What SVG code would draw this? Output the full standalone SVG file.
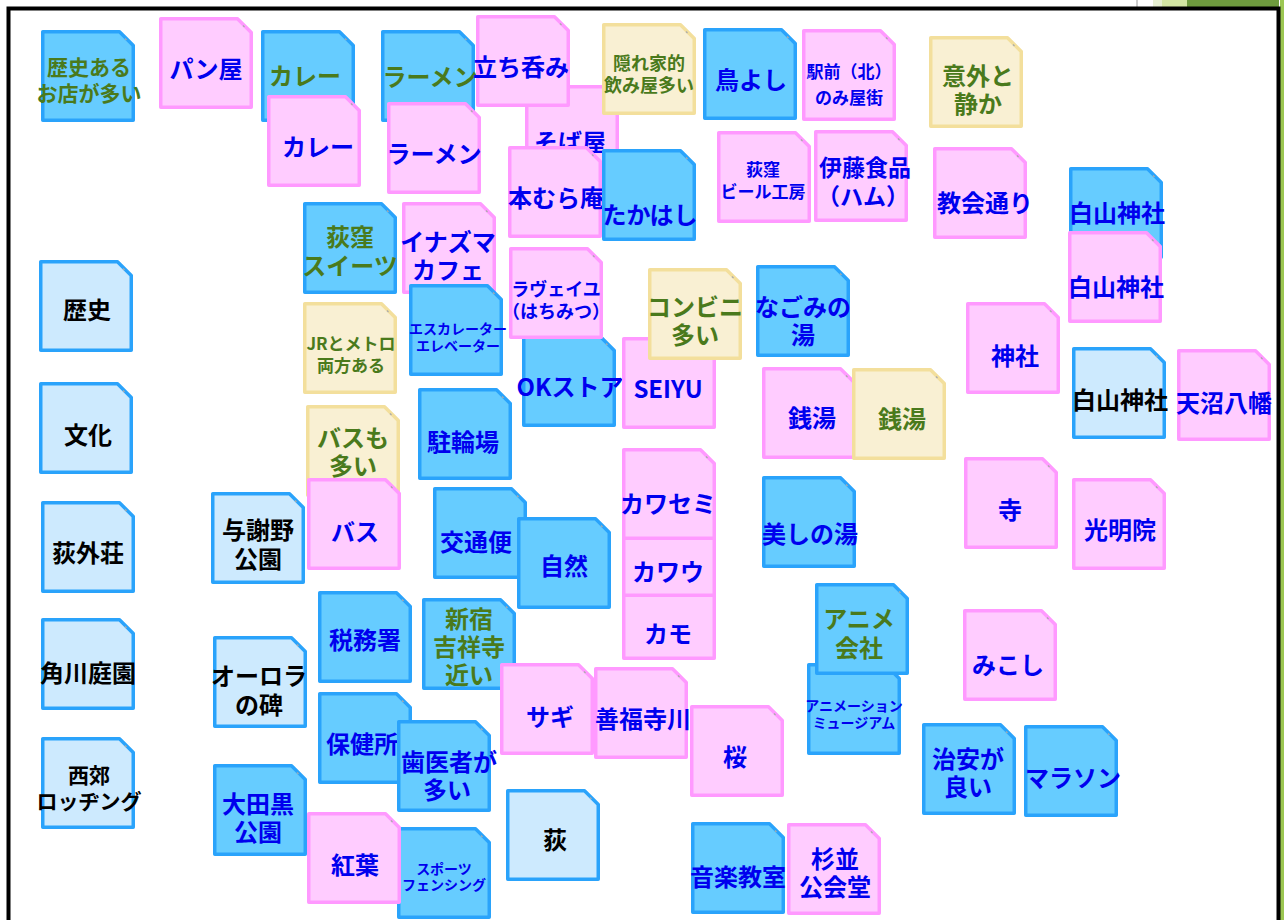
<svg xmlns="http://www.w3.org/2000/svg" xmlns:xlink="http://www.w3.org/1999/xlink" width="1284" height="920" viewBox="0 0 1284 920">
<style>
text{font-family:"Noto Sans CJK JP","Noto Sans",sans-serif;font-weight:bold;text-anchor:middle;dominant-baseline:central;font-size:24px}
.b{fill:#66ccff;stroke:#2aa3fb}
.l{fill:#cdeafe;stroke:#2aa3fb}
.p{fill:#ffccff;stroke:#ff99ff}
.y{fill:#f9f0d3;stroke:#f3df9c}
.tb{fill:#0000ee}
.tg{fill:#4a7a1c}
.tk{fill:#000}
.s14{font-size:14px}.s17{font-size:17px}.s18{font-size:18px}.s21{font-size:21px}.s22{font-size:23px}
</style>
<defs>
<g id="note">
<path d="M1.75,1.75 H78.5 L92.25,15.5 V90.25 H1.75 Z" stroke-width="3.5" stroke-linejoin="round"/>
<path d="M84,8.5 l1.5,1.5" fill="none" stroke="#aaaaaa" stroke-width="1.2"/>
</g>
</defs>
<rect x="0" y="0" width="1284" height="920" fill="#ffffff"/>
<g id="frame">
<line x1="1137" y1="0" x2="1137" y2="8" stroke="#9a9a9a" stroke-width="1"/>
<rect x="1153" y="0" width="34" height="8" fill="#d3e6a3"/>
<rect x="1153" y="0" width="9" height="8" fill="#e7f0d2"/>
<rect x="1187" y="0" width="92" height="8" fill="#6e9b3e"/>
<rect x="1280" y="0" width="4" height="920" fill="#9cc752"/>
<rect x="8.5" y="8.5" width="1270" height="930" fill="#ffffff" stroke="#000000" stroke-width="4"/>
</g>
<g id="connectors"></g>
<g id="notes">
<g id="n01"><use href="#note" class="b" x="41" y="30"/><text class="tg s21"><tspan x="89" y="66">歴史ある</tspan><tspan x="89" y="92">お店が多い</tspan></text></g>
<g id="n02"><use href="#note" class="p" x="159" y="17"/><text class="tb" x="206" y="67">パン屋</text></g>
<g id="n03"><use href="#note" class="b" x="261" y="30"/><text class="tg" x="305" y="74">カレー</text></g>
<g id="n04"><use href="#note" class="b" x="381" y="30"/><text class="tg" x="430" y="75">ラーメン</text></g>
<g id="n05"><use href="#note" class="p" x="267" y="95"/><text class="tb" x="318" y="145">カレー</text></g>
<g id="n06"><use href="#note" class="p" x="387" y="102"/><text class="tb" x="434" y="152">ラーメン</text></g>
<g id="n08"><use href="#note" class="p" x="525" y="85"/><text class="tb" x="570" y="140">そば屋</text></g>
<g id="n07"><use href="#note" class="p" x="476" y="15"/><text class="tb" x="521" y="65">立ち呑み</text></g>
<g id="n09"><use href="#note" class="y" x="602" y="23"/><text class="tg s18"><tspan x="649" y="62">隠れ家的</tspan><tspan x="649" y="84">飲み屋多い</tspan></text></g>
<g id="n10"><use href="#note" class="b" x="703" y="28"/><text class="tb" x="751" y="78">鳥よし</text></g>
<g id="n11"><use href="#note" class="p" x="802" y="29"/><text class="tb s17"><tspan x="849" y="70">駅前（北）</tspan><tspan x="849" y="96">のみ屋街</tspan></text></g>
<g id="n12"><use href="#note" class="y" x="929" y="36"/><text class="tg"><tspan x="978" y="74">意外と</tspan><tspan x="978" y="102">静か</tspan></text></g>
<g id="n13"><use href="#note" class="p" x="508" y="146"/><text class="tb" x="556" y="196">本むら庵</text></g>
<g id="n14"><use href="#note" class="b" x="602" y="149"/><text class="tb" x="650" y="213">たかはし</text></g>
<g id="n15"><use href="#note" class="p" x="717" y="131"/><text class="tb s17"><tspan x="763" y="168">荻窪</tspan><tspan x="763" y="190">ビール工房</tspan></text></g>
<g id="n16"><use href="#note" class="p" x="814" y="130"/><text class="tb s22"><tspan x="865" y="166">伊藤食品</tspan><tspan x="863" y="195">（ハム）</tspan></text></g>
<g id="n17"><use href="#note" class="p" x="933" y="147"/><text class="tb" x="985" y="201">教会通り</text></g>
<g id="n18"><use href="#note" class="b" x="1069" y="167"/><text class="tb" x="1117" y="211">白山神社</text></g>
<g id="n19"><use href="#note" class="p" x="1068" y="231"/><text class="tb" x="1116" y="285">白山神社</text></g>
<g id="n20"><use href="#note" class="b" x="303" y="202"/><text class="tg"><tspan x="350" y="235">荻窪</tspan><tspan x="350" y="264">スイーツ</tspan></text></g>
<g id="n21"><use href="#note" class="p" x="402" y="202"/><text class="tb"><tspan x="448" y="240">イナズマ</tspan><tspan x="448" y="268">カフェ</tspan></text></g>
<g id="n24"><use href="#note" class="b" x="522" y="335"/><text class="tb" x="570" y="385">OKストア</text></g>
<g id="n22"><use href="#note" class="p" x="509" y="247"/><text class="tb s18"><tspan x="556" y="288">ラヴェイユ</tspan><tspan x="556" y="310">（はちみつ）</tspan></text></g>
<g id="n23"><use href="#note" class="b" x="409" y="284"/><text class="tb s14"><tspan x="458" y="328">エスカレーター</tspan><tspan x="458" y="345">エレベーター</tspan></text></g>
<g id="n25"><use href="#note" class="p" x="622" y="337"/><text class="tb" x="668" y="387">SEIYU</text></g>
<g id="n26"><use href="#note" class="y" x="648" y="268"/><text class="tg"><tspan x="695" y="305">コンビニ</tspan><tspan x="695" y="333">多い</tspan></text></g>
<g id="n27"><use href="#note" class="b" x="756" y="265"/><text class="tb"><tspan x="803" y="305">なごみの</tspan><tspan x="803" y="333">湯</tspan></text></g>
<g id="n28"><use href="#note" class="l" x="39" y="260"/><text class="tk" x="87" y="308">歴史</text></g>
<g id="n29"><use href="#note" class="l" x="39" y="382"/><text class="tk" x="88" y="433">文化</text></g>
<g id="n30"><use href="#note" class="y" x="303" y="302"/><text class="tg s17"><tspan x="351" y="342">JRとメトロ</tspan><tspan x="351" y="364">両方ある</tspan></text></g>
<g id="n31"><use href="#note" class="b" x="418" y="388"/><text class="tb" x="463" y="440">駐輪場</text></g>
<g id="n32"><use href="#note" class="p" x="966" y="302"/><text class="tb" x="1015" y="354">神社</text></g>
<g id="n33"><use href="#note" class="l" x="1072" y="347"/><text class="tk" x="1120" y="398">白山神社</text></g>
<g id="n34"><use href="#note" class="p" x="1177" y="349"/><text class="tb" x="1224" y="401">天沼八幡</text></g>
<g id="n35"><use href="#note" class="p" x="762" y="367"/><text class="tb" x="812" y="416">銭湯</text></g>
<g id="n36"><use href="#note" class="y" x="852" y="368"/><text class="tg" x="902" y="417">銭湯</text></g>
<g id="n37"><use href="#note" class="y" x="306" y="405"/><text class="tg"><tspan x="353" y="436">バスも</tspan><tspan x="353" y="464">多い</tspan></text></g>
<g id="n38"><use href="#note" class="p" x="307" y="478"/><text class="tb" x="355" y="530">バス</text></g>
<g id="n39"><use href="#note" class="l" x="41" y="501"/><text class="tk" x="88" y="551">荻外荘</text></g>
<g id="n40"><use href="#note" class="l" x="211" y="492"/><text class="tk"><tspan x="258" y="528">与謝野</tspan><tspan x="258" y="557">公園</tspan></text></g>
<g id="n41"><use href="#note" class="b" x="433" y="487"/><text class="tb" x="476" y="540">交通便</text></g>
<g id="n42"><use href="#note" class="b" x="517" y="517"/><text class="tb" x="564" y="564">自然</text></g>
<g id="n43"><use href="#note" class="p" x="622" y="568"/><text class="tb" x="668" y="632">カモ</text></g>
<g id="n44"><use href="#note" class="p" x="622" y="505"/><text class="tb" x="668" y="570">カワウ</text></g>
<g id="n45"><use href="#note" class="p" x="622" y="448"/><text class="tb" x="668" y="502">カワセミ</text></g>
<g id="n46"><use href="#note" class="b" x="762" y="476"/><text class="tb" x="810" y="532">美しの湯</text></g>
<g id="n47"><use href="#note" class="p" x="964" y="457"/><text class="tb" x="1010" y="508">寺</text></g>
<g id="n48"><use href="#note" class="p" x="1072" y="478"/><text class="tb" x="1120" y="528">光明院</text></g>
<g id="n49"><use href="#note" class="l" x="41" y="618"/><text class="tk" x="88" y="671">角川庭園</text></g>
<g id="n50"><use href="#note" class="l" x="213" y="636"/><text class="tk"><tspan x="259" y="674">オーロラ</tspan><tspan x="259" y="703">の碑</tspan></text></g>
<g id="n51"><use href="#note" class="b" x="318" y="591"/><text class="tb" x="365" y="638">税務署</text></g>
<g id="n52"><use href="#note" class="b" x="422" y="598"/><text class="tg"><tspan x="469" y="617">新宿</tspan><tspan x="469" y="645">吉祥寺</tspan><tspan x="469" y="673">近い</tspan></text></g>
<g id="n53"><use href="#note" class="b" x="807" y="663"/><text class="tb s14"><tspan x="854" y="705">アニメーション</tspan><tspan x="854" y="722">ミュージアム</tspan></text></g>
<g id="n54"><use href="#note" class="b" x="815" y="583"/><text class="tg"><tspan x="859" y="617">アニメ</tspan><tspan x="859" y="646">会社</tspan></text></g>
<g id="n55"><use href="#note" class="p" x="963" y="609"/><text class="tb" x="1008" y="663">みこし</text></g>
<g id="n56"><use href="#note" class="b" x="318" y="692"/><text class="tb" x="362" y="742">保健所</text></g>
<g id="n57"><use href="#note" class="b" x="397" y="720"/><text class="tb"><tspan x="449" y="760">歯医者が</tspan><tspan x="447" y="788">多い</tspan></text></g>
<g id="n58"><use href="#note" class="p" x="500" y="663"/><text class="tb" x="550" y="715">サギ</text></g>
<g id="n59"><use href="#note" class="p" x="594" y="667"/><text class="tb" x="643" y="717">善福寺川</text></g>
<g id="n60"><use href="#note" class="p" x="690" y="705"/><text class="tb" x="735" y="755">桜</text></g>
<g id="n61"><use href="#note" class="b" x="922" y="723"/><text class="tb"><tspan x="968" y="757">治安が</tspan><tspan x="968" y="785">良い</tspan></text></g>
<g id="n62"><use href="#note" class="b" x="1024" y="725"/><text class="tb" x="1073" y="776">マラソン</text></g>
<g id="n63"><use href="#note" class="l" x="41" y="737"/><text class="tk s21"><tspan x="89" y="774">西郊</tspan><tspan x="89" y="800">ロッヂング</tspan></text></g>
<g id="n64"><use href="#note" class="b" x="213" y="764"/><text class="tb"><tspan x="258" y="802">大田黒</tspan><tspan x="258" y="830">公園</tspan></text></g>
<g id="n65"><use href="#note" class="l" x="506" y="789"/><text class="tk" x="555" y="838">荻</text></g>
<g id="n66"><use href="#note" class="b" x="397" y="827"/><text class="tb s14"><tspan x="444" y="868">スポーツ</tspan><tspan x="444" y="884">フェンシング</tspan></text></g>
<g id="n67"><use href="#note" class="p" x="307" y="812"/><text class="tb" x="355" y="863">紅葉</text></g>
<g id="n68"><use href="#note" class="b" x="691" y="822"/><text class="tb" x="738" y="875">音楽教室</text></g>
<g id="n69"><use href="#note" class="p" x="787" y="823"/><text class="tb"><tspan x="835" y="857">杉並</tspan><tspan x="835" y="885">公会堂</tspan></text></g>
</g>
</svg>
